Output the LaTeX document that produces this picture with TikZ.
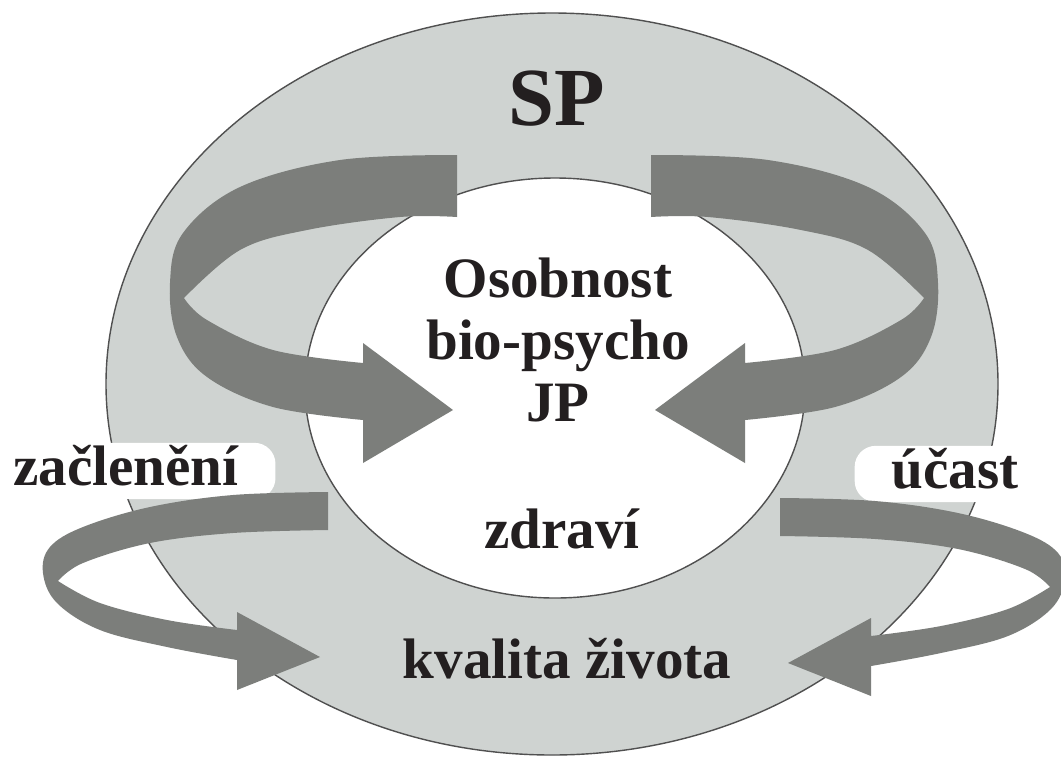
\documentclass[tikz,border=0pt]{standalone}
\usepackage{fontspec}
\setmainfont{Liberation Serif}
\usetikzlibrary{positioning}

\definecolor{ringgray}{RGB}{207,211,209}
\definecolor{loopgray}{RGB}{124,126,123}
\definecolor{edgegray}{RGB}{80,80,80}
\definecolor{inkcol}{RGB}{35,31,32}

\tikzset{
  ribbon/.style={fill=loopgray},
  % big loop round the inner ellipse (left one, mirrored for the right)
  upperloop/.pic={
    \fill[ribbon] (457,155)
      -- plot[smooth,tension=0.6] coordinates {(457,155) (340,160) (240,187) (183,233) (170,283) (177,337) (207,377) (273,407) (363,420)}
      -- (363,463) -- (453,410) -- (363,343) -- (363,363)
      -- plot[smooth,tension=0.6] coordinates {(363,363) (273,350) (207,320) (184,298)}
      -- plot[smooth,tension=0.6] coordinates {(184,298) (240,250) (307,230) (400,217) (457,217)}
      -- cycle;
  },
  % small loop at the bottom
  lowerloop/.pic={
    \fill[ribbon] (328,492)
      -- plot[smooth,tension=0.6] coordinates {(328,492) (233,495) (150,507) (83,527) (50,547) (43,573) (57,603) (100,630) (167,647) (237,660)}
      -- (237,690) -- (320,657) -- (237,612) -- (237,630)
      -- plot[smooth,tension=0.6] coordinates {(237,630) (167,620) (100,603) (58,581)}
      -- plot[smooth,tension=0.6] coordinates {(58,581) (83,563) (150,543) (233,533) (328,530)}
      -- cycle;
  }
}

\begin{document}
\begin{tikzpicture}[x=0.02cm,y=-0.02cm,node distance=1.25cm,
    txt/.style={font=\fontsize{32.5}{36}\selectfont\bfseries,text=inkcol,
                text height=23pt,text depth=7pt,inner sep=1pt},
    side/.style={txt,fill=white,rounded corners=12pt,inner xsep=21pt}]
  \path[use as bounding box,fill=white] (0,0) rectangle (1061,758);

  % ring and inner part
  \draw[edgegray,line width=0.8pt,fill=ringgray] (552,384) ellipse [x radius=446,y radius=371];
  \draw[edgegray,line width=0.8pt,fill=white] (555,388) ellipse [x radius=250,y radius=210];

  \node[txt,font=\fontsize{47}{50}\selectfont\bfseries,anchor=base] (sp) at (557,125) {SP};
  \node[txt,anchor=base] (osob) at (558,297) {Osobnost};
  \node[txt] (bio) [below of=osob] {bio-psycho};
  \node[txt] (jp) [below of=bio] {JP};
  \node[txt,anchor=base] (zdravi) at (562,548) {zdraví};
  \node[txt,anchor=base] (kvalita) at (567,678) {kvalita života};
  \node[side,anchor=base] (zacl) at (126,485) {začlenění};
  \node[side,anchor=base] (ucast) at (955,488) {účast};

  % arrows
  \pic at (0,0) {upperloop};
  \pic at (0,0) {lowerloop};
  \pic[xscale=-1] at (1108,0) {upperloop};
  \pic[xscale=-1] at (1108,6) {lowerloop};
\end{tikzpicture}
\end{document}
